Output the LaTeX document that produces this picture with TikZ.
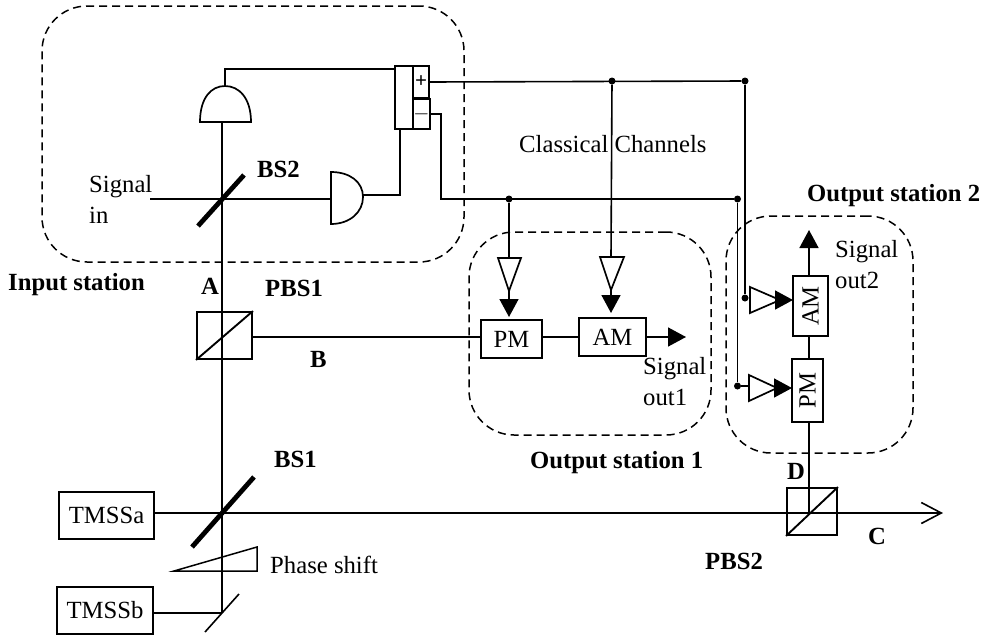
\documentclass[tikz,border=0pt]{standalone}
\usepackage{fontspec}
\setmainfont{Liberation Serif}
\usetikzlibrary{arrows.meta}
\tikzset{
    every node/.style={font=\fontsize{24.7}{31}\selectfont},
    wire/.style={line width=1.6pt},
    part/.style={draw,line width=1.9pt,inner sep=0pt},
    station/.style={draw,dash pattern=on 8pt off 5pt,line width=1.5pt,rounded corners=45pt},
    txt/.style={anchor=base west,inner sep=0pt},
    lbl/.style={txt,font=\fontsize{24.7}{31}\selectfont\bfseries},
    lines/.style={anchor=north west,inner sep=0pt,align=left},
    dot/.style={circle,fill,inner sep=0pt,minimum size=7pt},
    mirror/.style={line width=4.8pt},
    amp/.style={line width=1.7pt},
    sig/.style={wire,-{Triangle[length=18pt,width=19pt]}}
}
\begin{document}
\begin{tikzpicture}[x=1pt,y=-1pt]
    \useasboundingbox (0,0) rectangle (985,640);

    % stations
    \node[station,minimum width=422pt,minimum height=256pt](instation)at(253,134) {};
    \node[station,minimum width=242pt,minimum height=203pt](outone)at(590,333.5) {};
    \node[station,minimum width=187pt,minimum height=237pt](outtwo)at(819.5,334.5) {};

    % boxes
    \node[part,minimum width=95pt,minimum height=47pt](tmssa)at(106.5,515.5) {TMSSa};
    \node[part,minimum width=96pt,minimum height=47pt](tmssb)at(105,610.5) {TMSSb};
    \node[part,minimum width=61pt,minimum height=38pt](pm1)at(511.5,339) {PM};
    \node[part,minimum width=67pt,minimum height=38pt](am1)at(612.5,337) {AM};
    \node[part,rotate=90,minimum width=60pt,minimum height=35pt](am2)at(810.5,306) {AM};
    \node[part,rotate=90,minimum width=63pt,minimum height=31pt](pm2)at(807.5,390.5) {PM};
    \node[part,minimum width=18pt,minimum height=63pt](diff)at(404,97.5) {};
    \node[part,minimum width=16pt,minimum height=32pt,font=\fontsize{21}{21}\selectfont\bfseries](plus)at(421,82) {+};
    \node[part,minimum width=17pt,minimum height=30pt,font=\fontsize{21}{21}\selectfont\bfseries](minus)at(421.5,114) {$-$};
    \node[part,minimum width=55pt,minimum height=47pt](pbsone)at(224.5,335.5) {};
    \node[part,minimum width=50pt,minimum height=47pt](pbstwo)at(812,511.5) {};

    % junctions
    \coordinate(bstwo)at(222,199);
    \coordinate(bsone)at(222,513);
    \coordinate(fold)at(222,613);
    \coordinate(detone)at(222,123);
    \coordinate(dettwo)at(331,199);
    \coordinate(sigin)at(150,199);
    \coordinate(tip)at(943,513);
    \coordinate(outarrow)at(686,337);
    \coordinate(uparrow)at(809,230);
    \node[dot](ja)at(612,81) {};
    \node[dot](jb)at(745,81) {};
    \node[dot](jc)at(509,199) {};
    \node[dot](jd)at(737.5,199) {};
    \node[dot](je)at(745,298) {};
    \node[dot](jf)at(737.5,386) {};

    % mirrors and detectors
    \draw[mirror](198,226) -- (244,175);
    \draw[mirror](192,547) -- (254,477);
    \draw[line width=1.6pt](205,632) -- (239,594);
    \draw[part](pbsone.south west) -- (pbsone.north east);
    \draw[part](pbstwo.south west) -- (pbstwo.north east);
    \draw[line width=1.7pt](199,122) -- (252,122);
    \draw[line width=1.7pt](200,122) .. controls (200,98) and (211,86) .. (225,86) .. controls (239,86) and (251,98) .. (251,122);
    \draw[line width=1.7pt](331,172) .. controls (350,172) and (363,182) .. (363,197) .. controls (363,212) and (350,224) .. (331,224) -- cycle;
    \draw[line width=1.5pt](174,571) -- (257,547) -- (257,571) -- cycle;

    % amplifiers
    \draw[amp](498,258) -- (521,258) -- (509,291) -- cycle;
    \draw[amp](600,257) -- (624,257) -- (611,290) -- cycle;
    \draw[amp](750,287) -- (750,313) -- (780,300) -- cycle;
    \draw[amp](749,375) -- (749,401) -- (777,388) -- cycle;

    % optical lines
    \draw[wire](detone) -- (fold);
    \draw[wire](sigin) -- (dettwo);
    \draw[wire](tmssb.east |- fold) -- (fold);
    \draw[wire,-{Straight Barb[length=20pt,width=21pt,line width=1.6pt]}](tmssa.east |- bsone) -- (tip);
    \draw[wire](pbsone.east |- am1) -- (pm1.west |- am1);
    \draw[wire](pm1.east |- am1) -- (am1);
    \draw[sig](am1) -- (outarrow);
    \draw[wire](809,422) -- (809,513);
    \draw[wire](809,336) -- (809,359);
    \draw[sig](809,276) -- (uparrow);

    % classical lines
    \draw[wire](225,86) |- (diff.west |- 225,69);
    \draw[wire](363,195) -| (400,129);
    \draw[wire](plus.east) -- (jb);
    \draw[wire](minus.east) -| (441,199) -- (jd);
    \draw[wire](jc) -- (509,258);
    \draw[wire](ja) -- (611,257);
    \draw[wire](jb) -- (je);
    \draw[wire](jd) -- (jf);
    \draw[wire](je) -- (750,298);
    \draw[wire](jf) -- (749,386);
    \draw[sig,shorten >=3pt](509,291) -- (509,320);
    \draw[sig,shorten >=5pt](611,290) -- (611,318);
    \draw[sig](780,300) -- (793,300);
    \draw[sig](777,388) -- (792,388);

    % labels
    \node[lines](sigintext)at(89,175) {Signal\\in};
    \node[lines](sigone)at(643,357) {Signal\\out1};
    \node[lines](sigtwo)at(835,240) {Signal\\out2};
    \node[txt](classical)at(519,152) {Classical Channels};
    \node[txt](phase)at(270,573) {Phase shift};
    \node[lbl](bstwolbl)at(257,177) {BS2};
    \node[lbl](bsonelbl)at(274,467) {BS1};
    \node[lbl](inlbl)at(8,290) {Input station};
    \node[lbl](alabel)at(201,294) {A};
    \node[lbl](pbsonelbl)at(265,296) {PBS1};
    \node[lbl](blabel)at(310,367) {B};
    \node[lbl](outonelbl)at(530,468) {Output station 1};
    \node[lbl](outtwolbl)at(807,201) {Output station 2};
    \node[lbl](dlabel)at(787,479) {D};
    \node[lbl](clabel)at(868,544) {C};
    \node[lbl](pbstwolbl)at(705,569) {PBS2};
\end{tikzpicture}
\end{document}
